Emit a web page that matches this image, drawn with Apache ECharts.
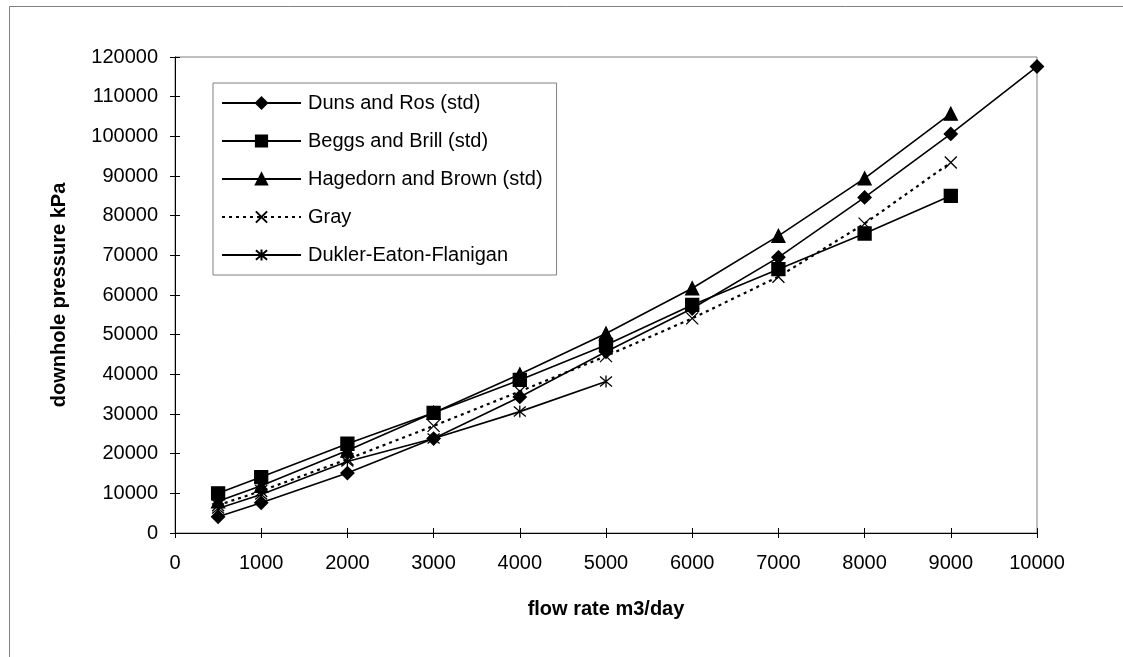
<!DOCTYPE html>
<html>
<head>
<meta charset="utf-8">
<script src="https://cdn.jsdelivr.net/npm/echarts@6/dist/echarts.min.js"></script>
<style>
  html, body { margin: 0; padding: 0; background: #fff; }
  #chart { width: 1123px; height: 657px; }
</style>
</head>
<body>
<div id="chart"></div>
<script>
// ---------------- data ----------------
var flowRate = [500, 1000, 2000, 3000, 4000, 5000, 6000, 7000, 8000, 9000, 10000]; // m3/day
var dunsRos  = [4100, 7600, 15100, 23800, 34300, 45700, 56600, 69500, 84600, 100600, 117600];
var beggsBrill = [10000, 14100, 22500, 30300, 38600, 47400, 57500, 66500, 75500, 85000];
var hagedornBrown = [8000, 11900, 20800, 30300, 40000, 50300, 61700, 74900, 89400, 105700];
var gray = [7000, 10600, 18600, 27000, 35700, 44600, 54100, 64600, 78000, 93400];
var dukler = [6200, 9700, 18000, 23800, 30600, 38200];

var seriesNames = ['Duns and Ros (std)', 'Beggs and Brill (std)', 'Hagedorn and Brown (std)', 'Gray', 'Dukler-Eaton-Flanigan'];

var FONT = 'Liberation Sans, Arial, sans-serif';

// x / y pairs
function pairs(vals) {
	var out = [];
	for (var i = 0; i < vals.length; i++) {
		out.push([flowRate[i], vals[i]]);
	}
	return out;
}

function lineSeries(name, vals, symbol, size, dashed) {
	return {
		name: name,
		type: 'line',
		data: pairs(vals),
		symbol: symbol,
		symbolSize: size,
		showAllSymbol: true,
		lineStyle: { color: '#000', width: dashed ? 2.2 : 1.6, type: dashed ? [3, 4] : 'solid' },
		itemStyle: { color: '#000', borderColor: '#000', borderWidth: 1.3 },
		emphasis: { disabled: true },
		animation: false
	};
}

function plain(v) { return String(v); }

var myChart = echarts.init(document.getElementById('chart'));
var option = {
	backgroundColor: '#fff',
	animation: false,
	textStyle: { fontFamily: FONT },
	graphic: [{
		type: 'rect',
		shape: { x: 9.5, y: 6.5, width: 1300, height: 800 },
		style: { fill: 'none', stroke: '#808080', lineWidth: 1 },
		silent: true
	}],
	grid: {
		left: 175, top: 57, right: 86, bottom: 124,
		show: true, borderColor: '#808080', borderWidth: 1
	},
	legend: {
		orient: 'vertical',
		left: 213, top: 83,
		padding: [10, 14, 10, 8],
		itemWidth: 79, itemHeight: 14, itemGap: 18,
		borderColor: '#808080', borderWidth: 1,
		backgroundColor: '#fff',
		textStyle: { fontFamily: FONT, fontSize: 20, color: '#000', lineHeight: 20, padding: [0, 0, 0, 2] },
		data: seriesNames
	},
	xAxis: [{
		type: 'value', min: 0, max: 10000, interval: 1000,
		name: 'flow rate m3/day', nameLocation: 'middle', nameGap: 66,
		nameTextStyle: { fontFamily: FONT, fontSize: 20, fontWeight: 'bold', color: '#000' },
		axisLine: { lineStyle: { color: '#000', width: 1 } },
		axisTick: { length: 5, lineStyle: { color: '#000' } },
		axisLabel: { fontFamily: FONT, fontSize: 20, color: '#000', margin: 20, formatter: plain },
		splitLine: { show: false }
	}, {
		type: 'value', min: 0, max: 10000, interval: 1000, position: 'bottom',
		axisLine: { show: false },
		axisTick: { inside: true, length: 5, lineStyle: { color: '#000' } },
		axisLabel: { show: false },
		splitLine: { show: false }
	}],
	yAxis: [{
		type: 'value', min: 0, max: 120000, interval: 10000,
		name: 'downhole pressure kPa', nameLocation: 'middle', nameGap: 106,
		nameTextStyle: { fontFamily: FONT, fontSize: 20, fontWeight: 'bold', color: '#000' },
		axisLine: { show: true, lineStyle: { color: '#000', width: 1 } },
		axisTick: { show: true, length: 5, lineStyle: { color: '#000' } },
		axisLabel: { fontFamily: FONT, fontSize: 20, color: '#000', margin: 17, formatter: plain },
		splitLine: { show: false }
	}, {
		type: 'value', min: 0, max: 120000, interval: 10000, position: 'left', offset: 0,
		axisLine: { show: false },
		axisTick: { show: true, inside: true, length: 5, lineStyle: { color: '#000' } },
		axisLabel: { show: false },
		splitLine: { show: false }
	}],
	series: [
		lineSeries(seriesNames[0], dunsRos, 'diamond', 13, false),
		lineSeries(seriesNames[1], beggsBrill, 'rect', 13, false),
		lineSeries(seriesNames[2], hagedornBrown, 'triangle', 13, false),
		lineSeries(seriesNames[3], gray, 'path://M0,0L10,10M10,0L0,10', 12, true),
		lineSeries(seriesNames[4], dukler, 'path://M0,0L10,10M10,0L0,10M5,-1L5,11', 12, false)
	]
};

myChart.setOption(option);
</script>
</body>
</html>
